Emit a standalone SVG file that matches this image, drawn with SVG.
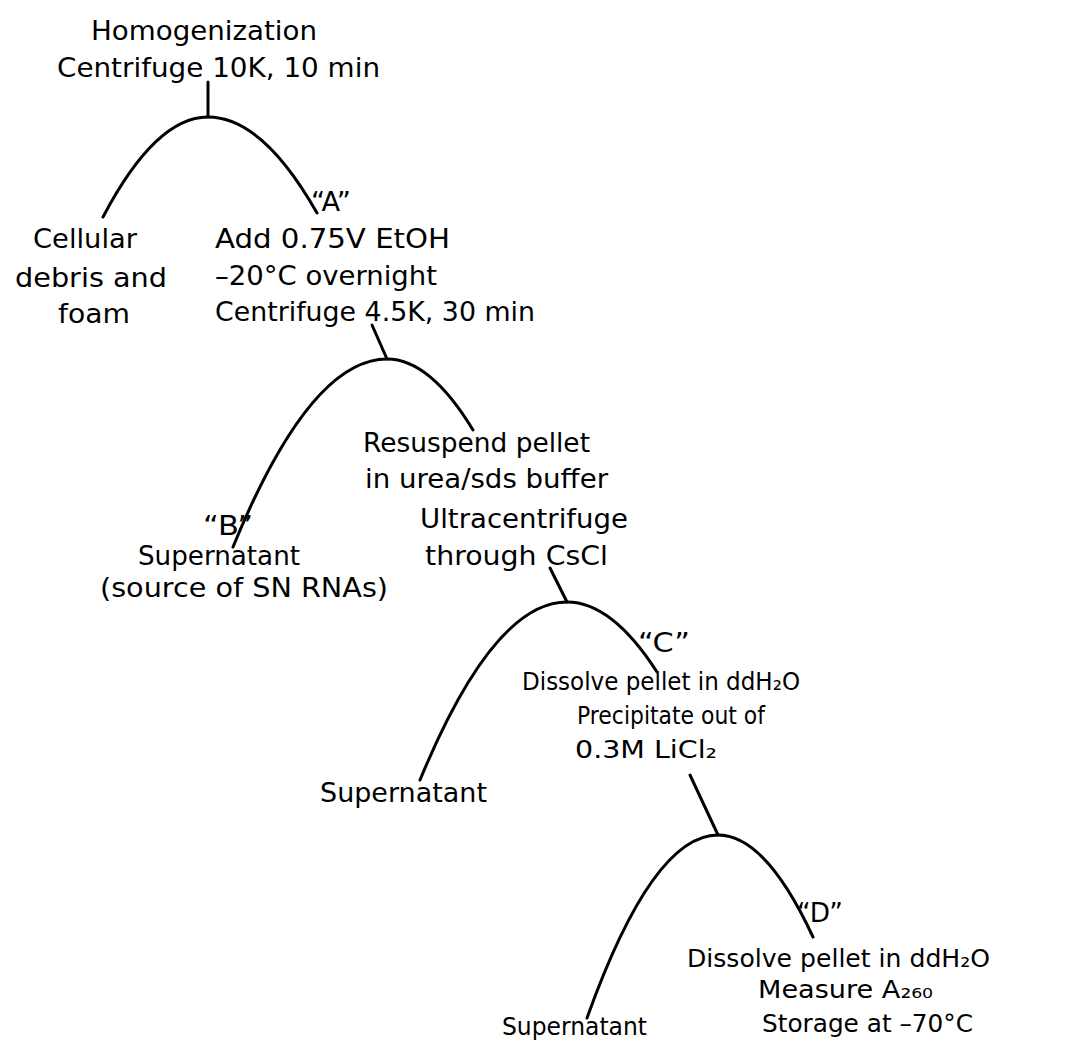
<svg xmlns="http://www.w3.org/2000/svg" width="1071" height="1057" viewBox="0 0 1071 1057">
<style>
text{font-family:"DejaVu Sans","Liberation Sans",sans-serif;font-size:27px;fill:#000}
.c{fill:none;stroke:#000;stroke-width:3;stroke-linecap:round}
.m{font-size:26px}
.s{font-size:24px}
.d{font-size:25px}
</style>
<rect width="1071" height="1057" fill="#fff"/>
<g id="connectors">
<path class="c" d="M208,82 L208,117"/>
<path class="c" d="M103,217 Q155.5,117 208,117 Q262.5,117 317,213"/>
<path class="c" d="M372,325 L387,359"/>
<path class="c" d="M233,547 Q310,359 387,359 Q430,359 473,430"/>
<path class="c" d="M550,568 L567,602"/>
<path class="c" d="M420,780 Q493.5,602 567,602 Q612,602 657,672"/>
<path class="c" d="M690,775 L718,835"/>
<path class="c" d="M587,1018 Q652.5,835 718,835 Q765.5,835 813,937"/>
</g>
<g id="start">
<text x="91" y="40" textLength="226" lengthAdjust="spacingAndGlyphs">Homogenization</text>
<text x="57" y="77" textLength="323" lengthAdjust="spacingAndGlyphs">Centrifuge 10K,  10 min</text>
</g>
<g id="debris">
<text x="33" y="248" textLength="104" lengthAdjust="spacingAndGlyphs">Cellular</text>
<text x="15" y="287" textLength="152" lengthAdjust="spacingAndGlyphs">debris and</text>
<text x="58" y="323" textLength="72" lengthAdjust="spacingAndGlyphs">foam</text>
</g>
<g id="A">
<text x="311" y="211" textLength="40" lengthAdjust="spacingAndGlyphs">“A”</text>
<text x="215" y="248" textLength="235" lengthAdjust="spacingAndGlyphs">Add 0.75V EtOH</text>
<text x="215" y="285" textLength="222" lengthAdjust="spacingAndGlyphs">–20°C overnight</text>
<text x="215" y="321" textLength="320" lengthAdjust="spacingAndGlyphs">Centrifuge 4.5K, 30 min</text>
</g>
<g id="B">
<text x="203" y="535" textLength="50" lengthAdjust="spacingAndGlyphs">“B”</text>
<text class="m" x="138" y="565" textLength="162" lengthAdjust="spacingAndGlyphs">Supernatant</text>
<text x="100" y="597" textLength="288" lengthAdjust="spacingAndGlyphs">(source of SN RNAs)</text>
</g>
<g id="pellet1">
<text class="m" x="363" y="452" textLength="227" lengthAdjust="spacingAndGlyphs">Resuspend pellet</text>
<text class="m" x="365" y="488" textLength="243" lengthAdjust="spacingAndGlyphs">in urea/sds buffer</text>
<text class="m" x="420" y="528" textLength="208" lengthAdjust="spacingAndGlyphs">Ultracentrifuge</text>
<text class="m" x="425" y="565" textLength="183" lengthAdjust="spacingAndGlyphs">through  CsCl</text>
</g>
<g id="C">
<text x="638" y="652" textLength="52" lengthAdjust="spacingAndGlyphs">“C”</text>
<text class="s" x="522" y="690" textLength="278" lengthAdjust="spacingAndGlyphs">Dissolve pellet in ddH₂O</text>
<text class="s" x="577" y="724" textLength="188" lengthAdjust="spacingAndGlyphs">Precipitate out of</text>
<text class="s" x="575" y="758" textLength="142" lengthAdjust="spacingAndGlyphs">0.3M  LiCl₂</text>
</g>
<g id="super2">
<text x="320" y="802" textLength="167" lengthAdjust="spacingAndGlyphs">Supernatant</text>
</g>
<g id="D">
<text x="797" y="922" textLength="46" lengthAdjust="spacingAndGlyphs">“D”</text>
<text class="d" x="687" y="967" textLength="303" lengthAdjust="spacingAndGlyphs">Dissolve pellet in ddH₂O</text>
<text class="d" x="758" y="998" textLength="175" lengthAdjust="spacingAndGlyphs">Measure  A₂₆₀</text>
<text class="d" x="762" y="1032" textLength="211" lengthAdjust="spacingAndGlyphs">Storage at –70°C</text>
</g>
<g id="super3">
<text class="s" x="502" y="1035" textLength="145" lengthAdjust="spacingAndGlyphs">Supernatant</text>
</g>
</svg>
